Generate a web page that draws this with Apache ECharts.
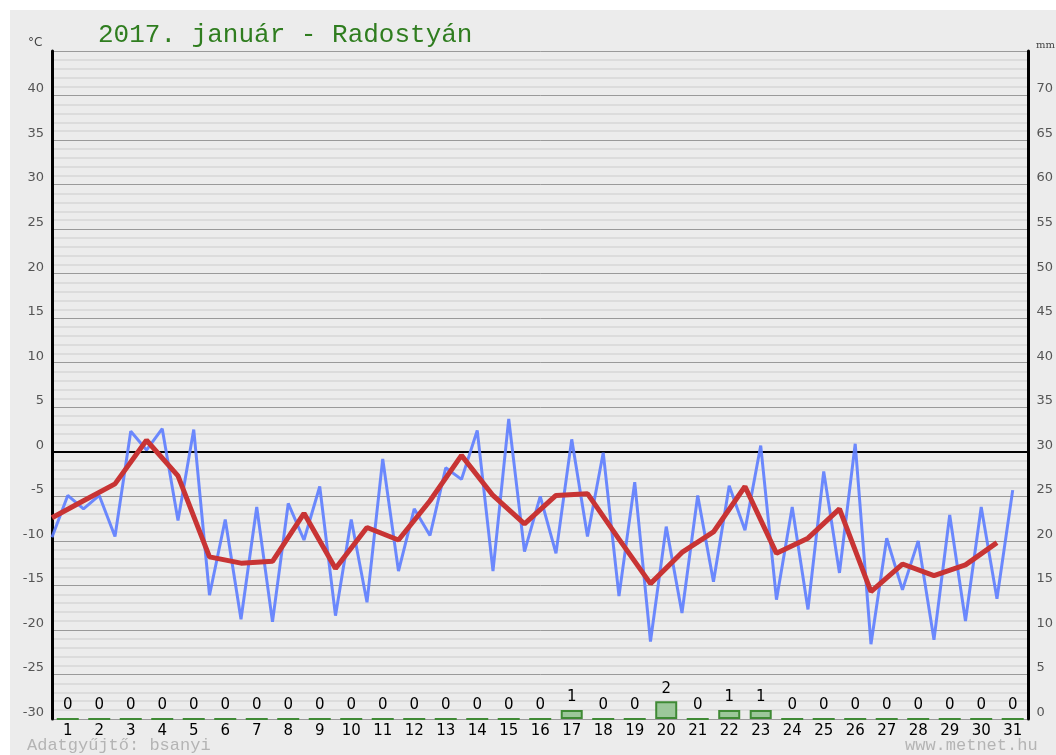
<!DOCTYPE html>
<html><head><meta charset="utf-8">
<script src="https://cdn.jsdelivr.net/npm/echarts@6/dist/echarts.min.js"></script>
<style>html,body{margin:0;padding:0;background:#fff;}#c{width:1056px;height:755px;}</style>
</head><body><div id="c"></div>
<script>
// Day labels (categories)
const days = ['1','2','3','4','5','6','7','8','9','10','11','12','13','14','15','16','17','18','19','20','21','22','23','24','25','26','27','28','29','30','31'];
// Half-daily temperatures (°C), two per day, starting at the beginning of day 1
const halfDayTemps = [-9.6,-4.9,-6.4,-4.9,-9.5,2.3,0.2,2.6,-7.7,2.5,-16.1,-7.6,-18.8,-6.2,-19.1,-5.8,-9.9,-3.9,-18.4,-7.6,-16.9,-0.8,-13.4,-6.4,-9.4,-1.8,-3.1,2.4,-13.4,3.7,-11.2,-5.0,-11.4,1.4,-9.5,-0.1,-16.2,-3.4,-21.3,-8.4,-18.1,-4.9,-14.6,-3.8,-8.8,0.7,-16.6,-6.2,-17.7,-2.2,-13.6,0.9,-21.6,-9.7,-15.5,-10.0,-21.1,-7.1,-19.0,-6.2,-16.5,-4.3];
// Daily mean temperatures (°C)
const dailyMeans = [-7.4,-5.5,-3.6,1.3,-2.7,-11.8,-12.5,-12.3,-6.9,-13.1,-8.5,-9.9,-5.5,-0.4,-4.9,-8.1,-4.9,-4.7,-9.8,-14.8,-11.3,-9.0,-3.9,-11.4,-9.7,-6.4,-15.7,-12.6,-13.9,-12.7,-10.2];
// Daily precipitation (mm)
const precip = [0,0,0,0,0,0,0,0,0,0,0,0,0,0,0,0,1,0,0,2,0,1,1,0,0,0,0,0,0,0,0];

const blueData = halfDayTemps.map((v,i)=>[i*0.5, v]);
const redData = dailyMeans.map((v,i)=>[i, v]);

const chart = echarts.init(document.getElementById('c'));
chart.setOption({
  animation:false,
  backgroundColor:'#ffffff',
  graphic:[
    {type:'rect', left:10, top:10, shape:{width:1046, height:745}, style:{fill:'#ececec'}, z:-100},
    {type:'text', left:28, top:37, style:{text:'°C', fill:'#444', font:'12px "DejaVu Sans"'}},
    {type:'text', left:1036, top:40, style:{text:'mm', fill:'#444', font:'10px "DejaVu Serif"'}},
    {type:'text', left:27, top:737, style:{text:'Adatgyűjtő: bsanyi', fill:'#b4b4b4', font:'17px "Liberation Mono"'}},
    {type:'text', left:905, top:737, style:{text:'www.metnet.hu', fill:'#b4b4b4', font:'17px "Liberation Mono"'}}
  ],
  title:{
    text:'2017. január - Radostyán', left:93, top:17,
    textStyle:{fontFamily:'Liberation Mono', fontSize:26, fontWeight:'normal', color:'#2f7d1f'}
  },
  grid:{left:52, right:27, top:51, bottom:36, containLabel:false},
  xAxis:[
    {type:'value', min:0, max:31, show:false},
    {type:'category', data:days, boundaryGap:true, position:'bottom',
     axisLine:{show:false}, axisTick:{show:false}, splitLine:{show:false},
     axisLabel:{color:'#000', fontSize:15, fontFamily:'DejaVu Sans', margin:5, interval:0}}
  ],
  yAxis:[
    {type:'value', min:-30, max:45, interval:5, position:'left',
     axisLine:{show:true, onZero:false, lineStyle:{color:'#000', width:3}},
     axisTick:{show:false},
     axisLabel:{color:'#555', fontSize:13, fontFamily:'DejaVu Sans', margin:8, verticalAlign:'bottom', showMaxLabel:false},
     splitLine:{show:true, lineStyle:{color:'#9a9a9a', width:1}},
     minorTick:{show:false, splitNumber:5},
     minorSplitLine:{show:true, lineStyle:{color:'#d6d6d6', width:1.5}}},
    {type:'value', min:0, max:75, interval:5, position:'right',
     axisLine:{show:true, onZero:false, lineStyle:{color:'#000', width:3}},
     axisTick:{show:false},
     axisLabel:{color:'#555', fontSize:13, fontFamily:'DejaVu Sans', margin:8, verticalAlign:'bottom', showMaxLabel:false},
     splitLine:{show:false}}
  ],
  series:[
    {type:'bar', xAxisIndex:1, yAxisIndex:1, data:precip, barWidth:22,
     itemStyle:{color:'#9cc79a', borderColor:'#3f8a35', borderWidth:2},
     label:{show:true, position:'top', distance:5, color:'#000', fontSize:15, fontFamily:'DejaVu Sans'},
     z:3},
    {type:'line', xAxisIndex:0, yAxisIndex:0, data:blueData, showSymbol:false, symbol:'none',
     lineStyle:{color:'#5d7dff', width:3, opacity:0.9}, z:4,
     markLine:{silent:true, symbol:'none', label:{show:false}, lineStyle:{color:'#000', width:2, type:'solid'},
       data:[{yAxis:0}], z:2}},
    {type:'line', xAxisIndex:0, yAxisIndex:0, data:redData, showSymbol:false, symbol:'none',
     lineStyle:{color:'#c83434', width:5}, z:5}
  ]
});
</script></body></html>
